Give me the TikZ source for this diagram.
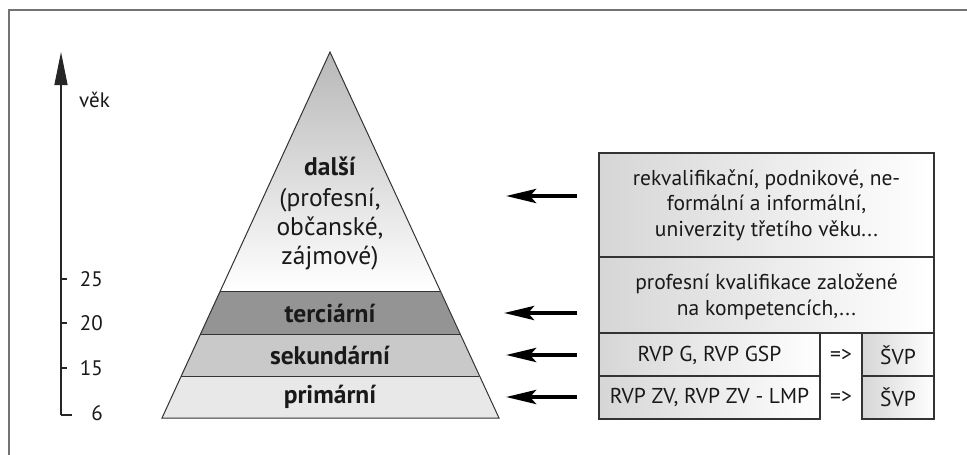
\documentclass[tikz,border=0pt]{standalone}
\usepackage{fontspec}
\setmainfont{PT Sans}
\usetikzlibrary{arrows.meta}
\begin{document}
\begin{tikzpicture}[x=1pt,y=-1pt,
  band/.style={draw=black!80, line width=1pt},
  box/.style={draw=black!80, line width=1.3pt, left color=black!16, middle color=white, right color=white, minimum width=#1, inner sep=0},
  ptext/.style={font=\fontsize{25.5}{29}\selectfont\bfseries, text=black!90, inner sep=0},
  rtext/.style={font=\fontsize{21.5}{25.5}\selectfont, text=black!90, align=center, inner sep=0},
  atext/.style={font=\fontsize{21}{22}\selectfont, text=black!90, inner sep=0},
  bigarrow/.style={line width=4pt, -{Stealth[length=30pt,width=14pt,inset=6pt]}},
]
\useasboundingbox (0,0) rectangle (967,455);
\fill[white] (0,0) rectangle (967,455);
% frame
\draw[black!55, line width=2pt] (967,10) -- (9,10) -- (9,455);

% age axis
\coordinate (axbot) at (61,415);
\coordinate (axtop) at (61,52);
\draw[black!85, line width=1.3pt, -{Triangle[length=33pt,width=13pt]}] (axbot) -- (axtop);
\draw[black!85, line width=1.2pt] (axbot) -- ++(11,0);
\foreach \yy in {279,323,368} \draw[black!85, line width=1.2pt] (61,\yy) -- (67,\yy);
\node[atext, anchor=west] (vek) at (79,100) {věk};
\node[atext, anchor=east] (a25) at (103,279) {25};
\node[atext, anchor=east] (a20) at (103,323) {20};
\node[atext, anchor=east] (a15) at (103,368) {15};
\node[atext, anchor=east] (a6) at (103,413) {6};

% pyramid
\path[top color=black!28, middle color=white, bottom color=white] (330,52) -- (440,291) -- (220,291) -- cycle;
\fill[black!42] (220,291) -- (440,291) -- (459.8,334) -- (200.2,334) -- cycle;
\fill[black!21] (200.2,334) -- (459.8,334) -- (479.2,376) -- (180.8,376) -- cycle;
\fill[black!9] (180.8,376) -- (479.2,376) -- (499,418) -- (162,418) -- cycle;
\draw[band] (330,52) -- (499,418) -- (162,418) -- cycle;
\draw[band] (220,291) -- (440,291);
\draw[band] (200.2,334) -- (459.8,334);
\draw[band] (180.8,376) -- (479.2,376);

\node[ptext, align=center] (dalsi) at (330,213) {další\\[2pt]\mdseries (profesní,\\\mdseries občanské,\\\mdseries zájmové)};
\node[ptext] (terc) at (330,313) {terciární};
\node[ptext] (sek) at (330,355) {sekundární};
\node[ptext] (prim) at (330,397) {primární};

% right boxes
\node[box=335pt, minimum height=104pt] (b1) at (766.5,205) {};
\node[box=335pt, minimum height=76pt] (b2) at (766.5,295) {};
\node[box=221pt, minimum height=43pt] (r1) at (709.5,354.5) {};
\node[box=221pt, minimum height=43pt] (r2) at (709.5,397.5) {};
\node[box=72pt, minimum height=43pt] (s1) at (898,354.5) {};
\node[box=72pt, minimum height=43pt] (s2) at (898,397.5) {};

\node[rtext] (t1) at (766.5,205) {rekvalifikační, podnikové, ne-\\formální a informální,\\univerzity třetího věku...};
\node[rtext] (t2) at (766.5,297) {profesní kvalifikace založené\\na kompetencích,...};
\node[rtext] (t3) at (709.5,355) {RVP G, RVP GSP};
\node[rtext] (t4) at (709.5,397) {RVP ZV, RVP ZV - LMP};
\node[rtext] (i1) at (841,355) {=>};
\node[rtext] (i2) at (841,397) {=>};
\node[rtext] (t5) at (898,355) {ŠVP};
\node[rtext] (t6) at (898,397) {ŠVP};

% arrows
\coordinate (e1) at (577,196); \coordinate (h1) at (506,196);
\coordinate (e2) at (577,313); \coordinate (h2) at (504,313);
\coordinate (e3) at (577,355); \coordinate (h3) at (506,355);
\coordinate (e4) at (577,397); \coordinate (h4) at (506,397);
\draw[bigarrow] (e1) -- (h1);
\draw[bigarrow] (e2) -- (h2);
\draw[bigarrow] (e3) -- (h3);
\draw[bigarrow] (e4) -- (h4);
\end{tikzpicture}
\end{document}
